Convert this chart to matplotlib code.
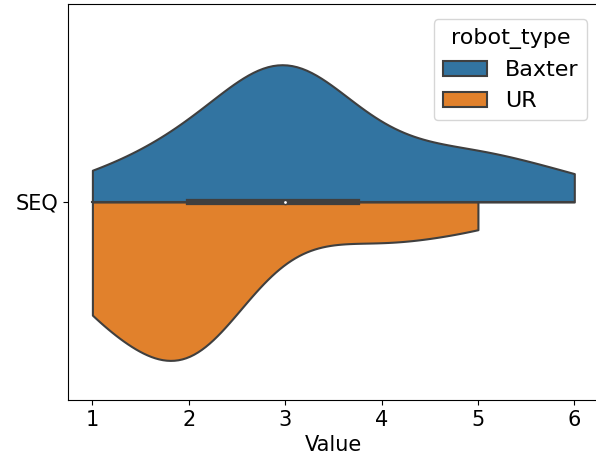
import numpy as np
import matplotlib
matplotlib.use("Agg")
import matplotlib.pyplot as plt
from matplotlib.patches import Patch

# ---- data ----
category = "SEQ"
hue_levels = ["Baxter", "UR"]
scores = [1, 2, 3, 4, 5, 6]
baxter_counts = [2, 5, 13, 4, 4, 2]
ur_counts = [8, 13, 2, 3, 2, 0]
colors = ["#3274a1", "#e1812c"]
gray = "#3f3f3f"
x_label = "Value"
legend_title = "robot_type"

baxter = np.repeat(scores, baxter_counts).astype(float)
ur = np.repeat(scores, ur_counts).astype(float)
groups = [baxter, ur]

plt.rcParams["font.size"] = 15


def kde(data, grid):
    n = len(data)
    h = data.std(ddof=1) * n ** (-1 / 5)
    z = (grid[:, None] - data[None, :]) / h
    return np.exp(-0.5 * z ** 2).sum(axis=1) / (n * h * np.sqrt(2 * np.pi))


fig = plt.figure(figsize=(5.96, 4.62), dpi=100)
ax = fig.add_axes([68.3 / 596, (462 - 400) / 462, 530.1 / 596, 396 / 462])

supports = [np.linspace(d.min(), d.max(), 100) for d in groups]
dens = [kde(d, s) for d, s in zip(groups, supports)]
mx = max(d.max() for d in dens)
dwidth = 0.4
lw = 1.5
center = 0
for j, (s, d) in enumerate(zip(supports, dens)):
    d = d / mx
    if j == 0:
        ax.fill_between(s, center - d * dwidth, center, facecolor=colors[j],
                        edgecolor=gray, linewidth=lw)
    else:
        ax.fill_between(s, center, center + d * dwidth, facecolor=colors[j],
                        edgecolor=gray, linewidth=lw)

# inner box for the whole group
allv = np.concatenate(groups)
q25, q50, q75 = np.percentile(allv, [25, 50, 75])
wl = 1.5 * (q75 - q25)
h1 = np.min(allv[allv >= q25 - wl])
h2 = np.max(allv[allv <= q75 + wl])
ax.plot([h1, h2], [center, center], linewidth=lw, color=gray)
ax.plot([q25, q75], [center, center], linewidth=lw * 3, color=gray)
ax.scatter(q50, center, zorder=3, color="white", edgecolor=gray, s=np.square(lw * 2))

ax.set_xlim(0.75, 6.25)
ax.set_ylim(0.5, -0.5)
ax.set_yticks([center])
ax.set_yticklabels([category])
ax.set_xlabel(x_label)
ax.spines["right"].set_visible(False)

handles = [Patch(facecolor=c, edgecolor=gray, linewidth=lw, label=l)
           for c, l in zip(colors, hue_levels)]
ax.legend(handles=handles, title=legend_title, loc="upper right",
          bbox_to_anchor=(1, 1 - 4 / 396),
          fontsize=16, title_fontsize=16)

fig.savefig("out.png", dpi=100)
